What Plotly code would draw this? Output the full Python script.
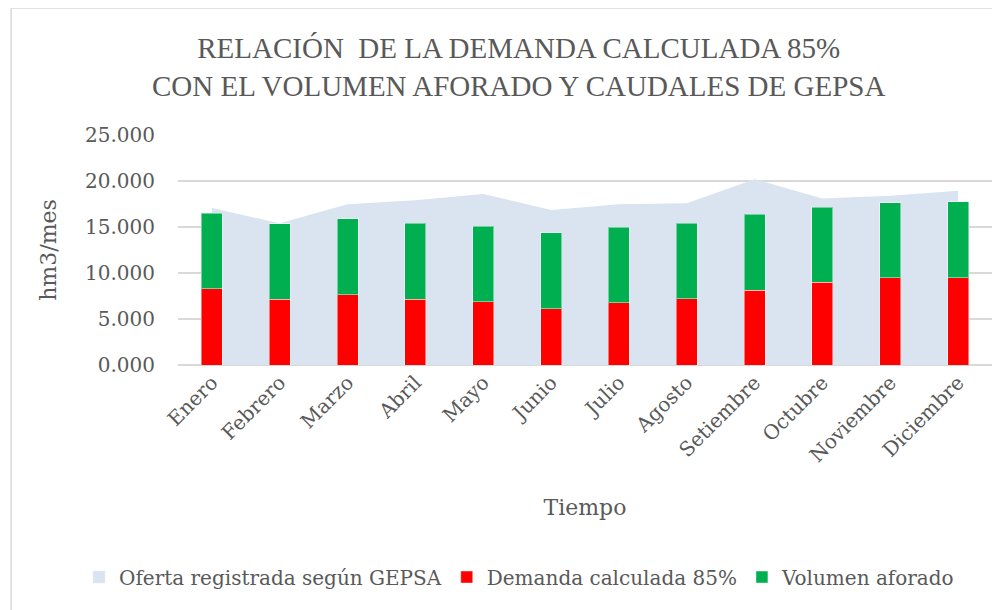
import plotly.graph_objects as go

meses = ["Enero", "Febrero", "Marzo", "Abril", "Mayo", "Junio", "Julio",
         "Agosto", "Setiembre", "Octubre", "Noviembre", "Diciembre"]
oferta_gepsa = [17.07, 15.40, 17.47, 17.90, 18.60, 16.85, 17.47, 17.57, 20.20, 18.10, 18.40, 18.95]
demanda_85 = [8.30, 7.17, 7.64, 7.14, 6.88, 6.09, 6.78, 7.21, 8.12, 8.99, 9.49, 9.49]
volumen_aforado = [8.22, 8.19, 8.26, 8.26, 8.19, 8.26, 8.22, 8.22, 8.26, 8.18, 8.15, 8.23]
y_ticks = [0, 5, 10, 15, 20, 25]

TXT = "#595959"
SERIF = "DejaVu Serif"
AREA = "#dae3f0"
YR = [0, 25]
XR = [-0.5, 11.5]

fig = go.Figure()
# Area (base axes, drawn beneath the bars)
fig.add_trace(go.Scatter(
    x=meses, y=oferta_gepsa, name="Oferta registrada según GEPSA",
    mode="none", fill="tozeroy", fillcolor=AREA,
    showlegend=False, legendgroup="oferta",
))
# Legend entry (square) for the area series
fig.add_trace(go.Bar(
    x=meses, y=[None] * len(meses), name="Oferta registrada según GEPSA",
    marker=dict(color=AREA), legendgroup="oferta",
    xaxis="x2", yaxis="y2", width=0.31,
))
fig.add_trace(go.Bar(
    x=meses, y=demanda_85, name="Demanda calculada 85%",
    marker=dict(color="#ff0000", line=dict(color="rgba(255,255,255,0.45)", width=1)),
    width=0.31, xaxis="x2", yaxis="y2",
))
fig.add_trace(go.Bar(
    x=meses, y=volumen_aforado, name="Volumen aforado",
    marker=dict(color="#00b050", line=dict(color="rgba(255,255,255,0.45)", width=1)),
    width=0.31, xaxis="x2", yaxis="y2",
))

fig.update_layout(
    width=1000, height=610,
    barmode="stack",
    paper_bgcolor="white", plot_bgcolor="white",
    margin=dict(l=170, r=16, t=127, b=253),
    font=dict(family=SERIF, color=TXT),
    xaxis=dict(
        type="category", range=XR, automargin=False,
        showgrid=False, showline=False, zeroline=False,
        tickangle=-45, tickfont=dict(size=20, color=TXT),
        ticks="", ticklabelstandoff=1,
        title=dict(text="Tiempo", font=dict(size=22, color=TXT), standoff=33),
    ),
    yaxis=dict(
        range=YR, tickvals=y_ticks, tickformat=".3f", automargin=False,
        showgrid=True, gridcolor="#d9d9d9", gridwidth=1.5,
        zeroline=True, zerolinecolor="#d9d9d9", zerolinewidth=1.5,
        showline=False, ticks="", ticklabelstandoff=22,
        tickfont=dict(size=20, color=TXT),
        title=dict(text="hm3/mes", font=dict(size=22, color=TXT), standoff=22),
    ),
    xaxis2=dict(type="category", range=XR, overlaying="x", visible=False,
                categoryorder="array", categoryarray=meses),
    yaxis2=dict(range=YR, overlaying="y", visible=False),
    legend=dict(
        orientation="h", x=-0.1216, xanchor="left", xref="paper",
        y=-0.922, yanchor="middle", yref="paper",
        font=dict(size=20, color=TXT), traceorder="normal",
        itemwidth=30, tracegroupgap=0,
    ),
    annotations=[dict(
        text="RELACIÓN  DE LA DEMANDA CALCULADA 85%<br>CON EL VOLUMEN AFORADO Y CAUDALES DE GEPSA",
        xref="paper", yref="paper", x=0.4177, y=1.296,
        xanchor="center", yanchor="middle", showarrow=False,
        font=dict(family="Liberation Serif", size=29, color=TXT),
    )],
    shapes=[dict(
        type="rect", xref="paper", yref="paper",
        x0=-0.205, x1=1.04, y0=-1.2, y1=1.552,
        line=dict(color="#d9d9d9", width=1.5), layer="below",
    )],
    showlegend=True,
)

fig.write_html("out.html")
